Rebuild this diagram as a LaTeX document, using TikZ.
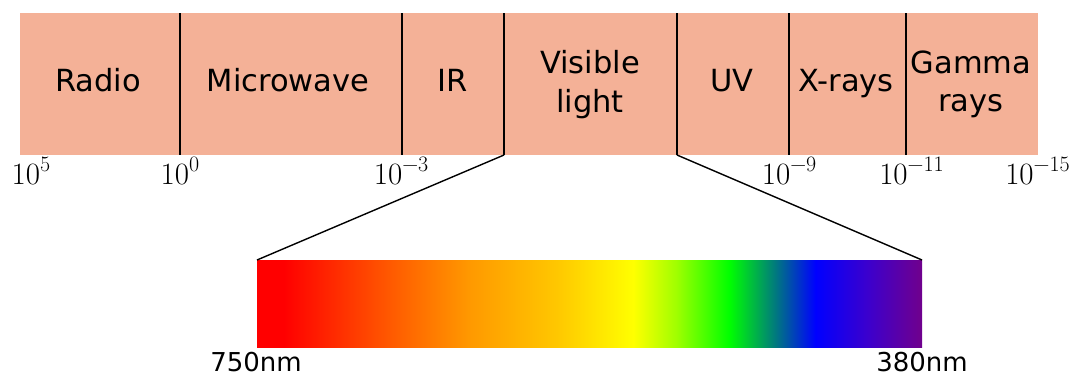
\documentclass[tikz,border=0pt]{standalone}
\usepackage{fontspec}
\setmainfont{Latin Modern Roman}
\newfontfamily\lab{DejaVu Sans}
\definecolor{bandfill}{RGB}{244,177,151}
\newcommand{\tenpow}[1]{10\raisebox{0.42em}{\fontsize{22}{24}\selectfont #1}}
\pgfdeclarehorizontalshading{spectrum}{100bp}{rgb(0bp)=(1,0,0); rgb(25bp)=(1,0,0); rgb(27bp)=(1,0,0); rgb(35bp)=(1,0.35,0); rgb(41bp)=(1,0.6,0); rgb(47.5bp)=(1,0.78,0); rgb(53.3bp)=(1,1,0); rgb(56.5bp)=(0.63,1,0); rgb(60.5bp)=(0,1,0); rgb(64bp)=(0,0.47,0.5); rgb(67bp)=(0,0,1); rgb(71bp)=(0.24,0,0.8); rgb(75bp)=(0.44,0,0.55); rgb(100bp)=(0.44,0,0.55)}
\begin{document}
\begin{tikzpicture}[x=1pt,y=-1pt,
  bandbox/.style={fill=bandfill, draw=none, inner sep=0pt, outer sep=0pt, anchor=north west, minimum height=142pt},
  divider/.style={draw=black, line width=1.4pt},
  conn/.style={draw=black, line width=1.4pt},
  lbl/.style={inner sep=0pt, font=\lab\fontsize{30.5}{38.4}\selectfont, text=black},
  nmlbl/.style={inner sep=0pt, font=\lab\fontsize{26}{30}\selectfont, text=black, anchor=base},
  num/.style={inner sep=0pt, font=\fontsize{31}{34}\selectfont, anchor=base},
  specbox/.style={shade, shading=spectrum, draw=none, inner sep=0pt, outer sep=0pt, anchor=north west}]
\useasboundingbox (0,0) rectangle (1073,376);
% bands
\node[bandbox, minimum width=160pt] (radio) at (20,13) {};
\node[bandbox, minimum width=222pt] (micro) at (180,13) {};
\node[bandbox, minimum width=102pt] (ir) at (402,13) {};
\node[bandbox, minimum width=173pt] (vis) at (504,13) {};
\node[bandbox, minimum width=112pt] (uv) at (677,13) {};
\node[bandbox, minimum width=117pt] (xr) at (789,13) {};
\node[bandbox, minimum width=132pt] (gam) at (906,13) {};
% dividers
\foreach \b in {radio,micro,ir,vis,uv,xr}
  \draw[divider] (\b.north east) -- (\b.south east);
% band labels
\node[lbl, anchor=base] (tradio) at (98,91.7) {Radio};
\node[lbl, anchor=base] (tmicro) at (288,91.7) {Microwave};
\node[lbl, anchor=base] (tir) at (453,91.7) {IR};
\node[lbl, align=center] (tvis) at (590,84.6) {Visible\\light};
\node[lbl, anchor=base] (tuv) at (732,91.7) {UV};
\node[lbl, anchor=base] (txr) at (846,91.7) {X-rays};
\node[lbl, align=center] (tgam) at (971,84.6) {Gamma\\rays};
% wavelength labels
\node[num] (e5) at (31,184.3) {\tenpow{5}};
\node[num] (e0) at (180,184.3) {\tenpow{0}};
\node[num] (em3) at (401,184.3) {\tenpow{−3}};
\node[num] (em9) at (789,184.3) {\tenpow{−9}};
\node[num] (em11) at (911.5,184.3) {\tenpow{−11}};
\node[num] (em15) at (1037.5,184.3) {\tenpow{−15}};
% spectrum
\node[specbox, minimum width=665pt, minimum height=87pt] (spec) at (257,260) {};
\draw[conn] (vis.south west) -- (spec.north west);
\draw[conn] (vis.south east) -- (spec.north east);
\node[nmlbl] (l750) at (256,371) {750nm};
\node[nmlbl] (l380) at (922,371) {380nm};
\end{tikzpicture}
\end{document}
